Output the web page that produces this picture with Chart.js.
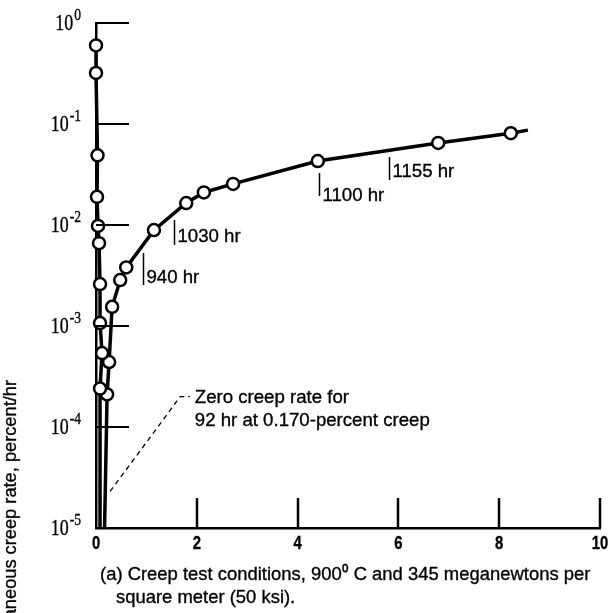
<!DOCTYPE html>
<html lang="en">
<head>
<meta charset="UTF-8">
<title>Creep rate</title>
<script src="https://cdn.jsdelivr.net/npm/chart.js@4.4.0/dist/chart.umd.min.js"></script>
<style>
    html, body { margin: 0; padding: 0; background: #fff; }
    #wrap { width: 612px; height: 613px; }
</style>
</head>
<body>
<div id="wrap"><canvas id="creepChart" width="612" height="613"></canvas></div>
<script>
    // zero creep rate can't sit on a log axis, so it is plotted on the floor
    var ZERO_RATE = 1e-5;

    // primary creep right after loading, falling to zero
    var primaryStrain = [0, 0, 0.03, 0.02, 0.04, 0.06, 0.08, 0.08, 0.12, 0.08, 0.08];
    var primaryRate = [0.6, 0.32, 0.049, 0.019, 0.0098, 0.0066, 0.0026, 0.00107, 0.00054, 0.00024, ZERO_RATE];

    // rate climbing again after the zero-rate hold
    var secondaryStrain = [0.17, 0.22, 0.26, 0.32, 0.48, 0.6, 1.15, 1.79, 2.14, 2.72, 4.4, 6.79, 8.23, 8.57];
    var secondaryRate = [ZERO_RATE, 0.00021, 0.00044, 0.00155, 0.00285, 0.0038, 0.0089, 0.0165, 0.021, 0.0255, 0.043, 0.065, 0.081, 0.087];

    var xTicks = [2, 4, 6, 8, 10];
    var xTickLabels = ['0', '2', '4', '6', '8', '10'];
    var yTickExponents = [0, -1, -2, -3, -4, -5];

    // elapsed-time marks along the curve
    var hourLabels = ['940 hr', '1030 hr', '1100 hr', '1155 hr'];
    var hourStrain = [0.93, 1.55, 4.42, 5.81];
    var hourRateTop = [0.0053, 0.0112, 0.0327, 0.0471];
    var hourRateBottom = [0.00255, 0.00634, 0.0194, 0.0279];
    var hourLabelRate = [0.003, 0.0076, 0.0194, 0.0335];

    var noteLines = ['Zero creep rate for', '92 hr at 0.170-percent creep'];
    var noteStrain = 1.96;
    var noteRates = [0.000194, 0.000115];
    var leaderStrain = [0.28, 1.67, 1.86];
    var leaderRate = [0.000023, 0.0002, 0.0002];

    var yTitle = 'Instantaneous creep rate, percent/hr';
    var captionLines = ['(a) Creep test conditions, 900\u2070 C and 345 meganewtons per', 'square meter (50 ksi).'];

    function toPoints(xs, ys){
        return xs.map(function(x, i){ return { x: x, y: ys[i] }; });
    }

    // draw text squeezed horizontally, the lettering on the plot is condensed
    function narrow(ctx, text, x, y, sx, align){
        var w = ctx.measureText(text).width * sx;
        var left = x;
        if(align == 'right') left = x - w;
        if(align == 'center') left = x - w / 2;
        ctx.save();
        ctx.translate(left, y);
        ctx.scale(sx, 1);
        ctx.textAlign = 'left';
        ctx.fillText(text, 0, 0);
        ctx.lineWidth = 0.35;
        ctx.strokeText(text, 0, 0);
        ctx.restore();
        return w;
    }

    var SANS = '"Liberation Sans", Arial, sans-serif';
    var SERIF = '"Liberation Serif", "Times New Roman", serif';

    var decorations = {
        id: 'decorations',
        afterDraw: function(chart){
            var ctx = chart.ctx;
            var xs = chart.scales.x, ys = chart.scales.y;
            var area = chart.chartArea;
            ctx.save();
            ctx.strokeStyle = '#000';
            ctx.fillStyle = '#000';
            ctx.textBaseline = 'middle';

            // inward tick marks
            ctx.lineWidth = 2;
            yTickExponents.forEach(function(e){
                if(e == -5) return;
                var py = Math.round(ys.getPixelForValue(Math.pow(10, e)));
                ctx.beginPath();
                ctx.moveTo(area.left, py);
                ctx.lineTo(area.left + 33, py);
                ctx.stroke();
            });
            ctx.lineWidth = 2.5;
            xTicks.forEach(function(v){
                var px = Math.round(xs.getPixelForValue(v));
                ctx.beginPath();
                ctx.moveTo(px, area.bottom);
                ctx.lineTo(px, area.bottom - 30);
                ctx.stroke();
            });

            // y tick labels, 10 with a raised exponent
            yTickExponents.forEach(function(e){
                var py = ys.getPixelForValue(Math.pow(10, e));
                var sup = e < 0 ? '-' + (-e) : String(e);
                ctx.font = '16px ' + SERIF;
                var supW = ctx.measureText(sup).width * 0.85;
                narrow(ctx, sup, 81, py - 7, 0.85, 'right');
                ctx.font = '23px ' + SERIF;
                narrow(ctx, '10', 81 - supW - 1, py + 1, 0.78, 'right');
            });

            // x tick labels
            ctx.font = 'bold 19px ' + SANS;
            xTickLabels.forEach(function(t){
                narrow(ctx, t, xs.getPixelForValue(Number(t)), area.bottom + 16, 0.78, 'center');
            });

            // elapsed-time marks
            ctx.lineWidth = 1.5;
            ctx.font = '19px ' + SANS;
            hourLabels.forEach(function(t, i){
                var px = Math.round(xs.getPixelForValue(hourStrain[i])) + 0.5;
                ctx.beginPath();
                ctx.moveTo(px, ys.getPixelForValue(hourRateTop[i]));
                ctx.lineTo(px, ys.getPixelForValue(hourRateBottom[i]));
                ctx.stroke();
                narrow(ctx, t, px + 3, ys.getPixelForValue(hourLabelRate[i]), 0.98, 'left');
            });

            // zero creep rate note with dashed leader
            ctx.setLineDash([5, 4]);
            ctx.lineWidth = 1.3;
            ctx.beginPath();
            leaderStrain.forEach(function(s, i){
                var px = xs.getPixelForValue(s), py = ys.getPixelForValue(leaderRate[i]);
                if(i == 0) ctx.moveTo(px, py); else ctx.lineTo(px, py);
            });
            ctx.stroke();
            ctx.setLineDash([]);
            ctx.font = '19px ' + SANS;
            noteLines.forEach(function(t, i){
                narrow(ctx, t, xs.getPixelForValue(noteStrain), ys.getPixelForValue(noteRates[i]), 0.98, 'left');
            });

            // caption under the plot
            ctx.font = '19px ' + SANS;
            narrow(ctx, captionLines[0], 100, 575, 0.97, 'left');
            narrow(ctx, captionLines[1], 116, 598, 0.97, 'left');

            // rotated y title, running off the bottom edge
            ctx.save();
            ctx.translate(11, 380);
            ctx.rotate(-Math.PI / 2);
            ctx.font = '19px ' + SANS;
            narrow(ctx, yTitle, 0, 0, 0.96, 'right');
            ctx.restore();

            ctx.restore();
        }
    };

    function hollowRadius(last){
        return function(c){
            if(c.raw && c.raw.y <= ZERO_RATE) return 0;
            if(last && c.dataIndex == last) return 0;
            return 6;
        };
    }

    var ctx = document.getElementById('creepChart').getContext('2d');
    var chart = new Chart(ctx, {
        type: 'line',
        data: {
            datasets: [
                {
                    label: 'primary',
                    data: toPoints(primaryStrain, primaryRate),
                    borderColor: '#000',
                    borderWidth: 3.5,
                    pointRadius: hollowRadius(0),
                    pointBackgroundColor: '#fff',
                    pointBorderColor: '#000',
                    pointBorderWidth: 2.5,
                    tension: 0,
                    clip: false
                },
                {
                    label: 'secondary',
                    data: toPoints(secondaryStrain, secondaryRate),
                    borderColor: '#000',
                    borderWidth: 3.5,
                    pointRadius: hollowRadius(secondaryRate.length - 1),
                    pointBackgroundColor: '#fff',
                    pointBorderColor: '#000',
                    pointBorderWidth: 2.5,
                    tension: 0,
                    clip: false
                }
            ]
        },
        options: {
            responsive: false,
            animation: false,
            layout: { padding: { left: 96, right: 12, top: 23, bottom: 85 } },
            plugins: {
                legend: { display: false },
                tooltip: { enabled: false }
            },
            scales: {
                x: {
                    type: 'linear', min: 0, max: 10,
                    grid: { display: false, drawTicks: false },
                    border: { display: true, color: '#000', width: 2.5 },
                    ticks: { display: false }
                },
                y: {
                    type: 'logarithmic', min: 1e-5, max: 1,
                    grid: { display: false, drawTicks: false },
                    border: { display: true, color: '#000', width: 2.5 },
                    ticks: { display: false }
                }
            }
        },
        plugins: [decorations]
    });
</script>
</body>
</html>
